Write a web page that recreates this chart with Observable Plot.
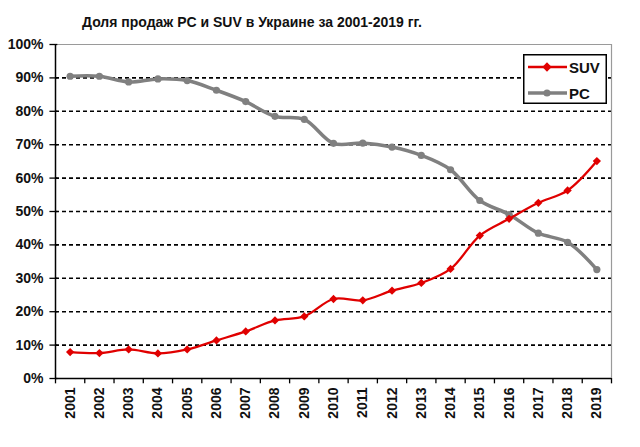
<!DOCTYPE html>
<html>
<head>
<meta charset="utf-8">
<script src="https://cdn.jsdelivr.net/npm/d3@7"></script>
<script src="https://cdn.jsdelivr.net/npm/@observablehq/plot@0.6"></script>
<style>
  body { margin: 0; background: #fff; font-family: "Liberation Sans", Arial, sans-serif; }
  #wrap { position: relative; width: 640px; height: 447px; overflow: hidden; }
  #title { height: 34px; box-sizing: border-box; padding: 15px 0 0 82px; font-weight: bold; font-size: 14px; line-height: 14px; color: #111; white-space: nowrap; }
  #legend { position: absolute; left: 523px; top: 54px; }
</style>
</head>
<body>
<div id="wrap">
  <div id="title">Доля продаж PC и SUV в Украине за 2001-2019 гг.</div>
  <div id="chart"></div>
  <div id="legend"></div>
</div>
<script>
const years = [2001, 2002, 2003, 2004, 2005, 2006, 2007, 2008, 2009, 2010, 2011, 2012, 2013, 2014, 2015, 2016, 2017, 2018, 2019];
const suvShare = [7.9, 7.6, 8.7, 7.5, 8.7, 11.4, 14.1, 17.4, 18.6, 23.8, 23.4, 26.3, 28.6, 32.8, 42.8, 47.8, 52.6, 56.3, 65.1];
const pcShare = [90.5, 90.5, 88.8, 89.7, 89.2, 86.3, 82.9, 78.5, 77.6, 70.4, 70.5, 69.3, 66.8, 62.5, 53.3, 49.1, 43.5, 40.8, 32.6];
const yTicks = [0, 10, 20, 30, 40, 50, 60, 70, 80, 90, 100];
const gridLines = [10, 20, 30, 40, 50, 60, 70, 80, 90];
const seriesNames = ["SUV", "PC"];
const seriesColors = ["#e00000", "#808080"];

const suvData = years.map((y, i) => ({year: y, value: suvShare[i]}));
const pcData = years.map((y, i) => ({year: y, value: pcShare[i]}));
const xMin = years[0] - 0.5, xMax = years[years.length - 1] + 0.5;
const boundaries = years.map(y => y - 0.5).concat([xMax]);

const chart = Plot.plot({
  width: 640,
  height: 413,
  marginTop: 10,
  marginBottom: 69,
  marginLeft: 55,
  marginRight: 29,
  x: {type: "linear", domain: [xMin, xMax], axis: null},
  y: {domain: [0, 100], axis: null},
  style: {fontFamily: "'Liberation Sans', Arial, sans-serif", background: "white", color: "#111"},
  marks: [
    Plot.ruleY(gridLines, {stroke: "#000", strokeDasharray: "4,3", strokeWidth: 1.6}),
    Plot.ruleY([100], {stroke: "#9a9a9a", strokeWidth: 1.2}),
    Plot.ruleX([xMax], {stroke: "#9a9a9a", strokeWidth: 1.2}),
    Plot.ruleX([xMin], {stroke: "#000", strokeWidth: 1.5}),
    Plot.ruleY([0], {stroke: "#000", strokeWidth: 1.5}),
    Plot.ruleY(yTicks, {x1: xMin - 0.19, x2: xMin + 0.08, stroke: "#000", strokeWidth: 1.3}),
    Plot.ruleX(boundaries, {y1: 0, y2: -1.6, stroke: "#000", strokeWidth: 1.3}),
    Plot.line(pcData, {x: "year", y: "value", stroke: seriesColors[1], strokeWidth: 3.5, curve: "catmull-rom"}),
    Plot.dot(pcData, {x: "year", y: "value", r: 3.6, fill: seriesColors[1], stroke: "none"}),
    Plot.line(suvData, {x: "year", y: "value", stroke: seriesColors[0], strokeWidth: 2.3, curve: "catmull-rom"}),
    Plot.dot(suvData, {x: "year", y: "value", symbol: "square", rotate: 45, r: 3.3, fill: seriesColors[0], stroke: "none"}),
    Plot.text(yTicks, {x: xMin, y: d => d, text: d => d + "%", textAnchor: "end", dx: -12, fontSize: 14, fontWeight: "bold", fill: "#111"}),
    Plot.text(years, {x: d => d, y: 0, text: d => String(d), rotate: -90, textAnchor: "end", dy: 9, fontSize: 14, fontWeight: "bold", fill: "#111"})
  ]
});
document.getElementById("chart").appendChild(chart);

// legend box
const lg = d3.select("#legend").append("svg").attr("width", 84).attr("height", 50);
lg.append("rect").attr("x", 0.75).attr("y", 0.75).attr("width", 82.5).attr("height", 48.5)
  .attr("fill", "#fff").attr("stroke", "#000").attr("stroke-width", 1.5);
seriesNames.forEach((name, i) => {
  const cy = i === 0 ? 13 : 39;
  const g = lg.append("g");
  g.append("line").attr("x1", 5).attr("x2", 44).attr("y1", cy).attr("y2", cy)
    .attr("stroke", seriesColors[i]).attr("stroke-width", i === 0 ? 2.3 : 3.5);
  if (i === 0) {
    g.append("rect").attr("x", -3.3).attr("y", -3.3).attr("width", 6.6).attr("height", 6.6)
      .attr("transform", `translate(24,${cy}) rotate(45)`).attr("fill", seriesColors[i]);
  } else {
    g.append("circle").attr("cx", 24).attr("cy", cy).attr("r", 3.6).attr("fill", seriesColors[i]);
  }
  g.append("text").attr("x", 46).attr("y", cy + 5.5).attr("font-size", 15).attr("font-weight", "bold")
    .attr("font-family", "'Liberation Sans', Arial, sans-serif").attr("fill", "#111").text(name);
});
</script>
</body>
</html>
